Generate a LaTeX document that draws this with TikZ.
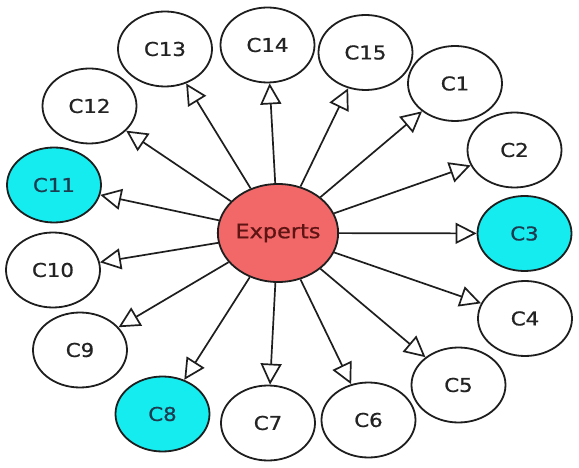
\documentclass[tikz,border=0pt]{standalone}
\usepackage{fontspec}
\setmainfont{DejaVu Sans}[FakeStretch=1.12,FakeBold=0.8]
\usetikzlibrary{shapes.geometric,arrows.meta}
\definecolor{linec}{RGB}{30,30,30}
\definecolor{cyanc}{RGB}{20,236,240}
\definecolor{expc}{RGB}{242,104,104}
\definecolor{textc}{RGB}{35,35,35}
\definecolor{textcy}{RGB}{30,60,80}
\definecolor{exptext}{RGB}{95,20,20}
\begin{document}
\begin{tikzpicture}[x=1pt,y=-1pt,
  cnode/.style={ellipse,draw=linec,line width=1.8pt,fill=white,minimum width=94pt,minimum height=75pt,inner sep=0pt,font=\fontsize{19}{19}\selectfont,text=textc},
  hl/.style={cnode,fill=cyanc,text=textcy},
  hub/.style={ellipse,draw=linec,line width=1.8pt,fill=expc,minimum width=120pt,minimum height=98pt,inner sep=0pt,font=\fontsize{20}{20}\selectfont,text=exptext},
  link/.style={draw=linec,line width=1.7pt,-{Triangle[fill=white,length=21pt,width=21pt]}}
]
\useasboundingbox[fill=white] (0,0) rectangle (579,468);
\node[hub] (E) at (278,233) {Experts};
\node[cnode] (c1) at (455,83.5) {C1};
\node[cnode] (c2) at (514.5,150) {C2};
\node[hl] (c3) at (524.5,233.5) {C3};
\node[cnode] (c4) at (525,318.5) {C4};
\node[cnode] (c5) at (458.5,385) {C5};
\node[cnode] (c6) at (368.5,420) {C6};
\node[cnode] (c7) at (268,423) {C7};
\node[hl] (c8) at (162.5,414) {C8};
\node[cnode] (c9) at (80,350) {C9};
\node[cnode] (c10) at (53,270) {C10};
\node[hl] (c11) at (54,185) {C11};
\node[cnode] (c12) at (89.5,106) {C12};
\node[cnode] (c13) at (165,49) {C13};
\node[cnode] (c14) at (267.5,45) {C14};
\node[cnode] (c15) at (365.5,52.5) {C15};
\foreach \t in {c1,c2,c3,c4,c5,c6,c7,c8,c9,c10,c11,c12,c13,c14,c15}
  \draw[link] (E) -- (\t);
\end{tikzpicture}
\end{document}
